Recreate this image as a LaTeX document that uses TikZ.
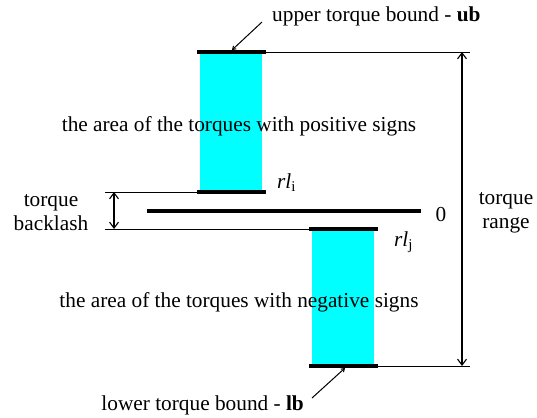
\documentclass[tikz,border=0pt]{standalone}
\usepackage{fontspec}
\setmainfont{Liberation Serif}
\usetikzlibrary{arrows.meta}
\definecolor{aqua}{RGB}{0,255,255}
\begin{document}
\begin{tikzpicture}[x=1pt,y=-1pt,
  thinline/.style={line width=0.9pt},
  barline/.style={line width=4.5pt},
  dimarrow/.style={line width=1.1pt,{Straight Barb[length=6pt,width=9pt]}-{Straight Barb[length=6pt,width=9pt]}},
  leader/.style={line width=1pt,-{Straight Barb[length=3pt,width=4pt]}},
  lbl/.style={inner sep=0pt,font=\rmfamily\fontsize{21.3}{24}\selectfont},
  cyanbox/.style={fill=aqua,draw=none}]
\useasboundingbox (0,0) rectangle (537,417);
% cyan areas
\fill[cyanbox] (200,52) rectangle (262,192);
\fill[cyanbox] (312,229) rectangle (374,366);
% coordinates
\coordinate (ubL) at (197,52);
\coordinate (ubR) at (266,52);
\coordinate (ubE) at (470,52);
\coordinate (lbL) at (309,366);
\coordinate (lbR) at (378,366);
\coordinate (lbE) at (470,366);
\coordinate (riL) at (197,192);
\coordinate (riR) at (266,192);
\coordinate (riS) at (105,192);
\coordinate (rjL) at (309,229);
\coordinate (rjR) at (378,229);
\coordinate (rjS) at (105,229);
\coordinate (zL) at (147,211);
\coordinate (zR) at (421,211);
% thin lines
\draw[thinline] (ubR) -- (ubE);
\draw[thinline] (lbR) -- (lbE);
\draw[thinline] (riS) -- (riL);
\draw[thinline] (rjS) -- (rjL);
% bars
\draw[barline] (ubL) -- (ubR);
\draw[barline] (lbL) -- (lbR);
\draw[barline] (riL) -- (riR);
\draw[barline] (rjL) -- (rjR);
\draw[barline] (zL) -- (zR);
% dimension arrows
\coordinate (rngT) at (462,52);
\coordinate (rngB) at (462,366);
\draw[dimarrow] (rngT) -- (rngB);
\coordinate (blT) at (114,192);
\coordinate (blB) at (114,229);
\draw[dimarrow] (blT) -- (blB);
% texts
\node[lbl,anchor=west] (ub) at (272,16) {upper torque bound - \textbf{ub}};
\node[lbl,anchor=east] (lb) at (304,405) {lower torque bound - \textbf{lb}};
\coordinate (ubS) at (262,22);
\coordinate (ubP) at (232,50);
\coordinate (lbS) at (312,398);
\coordinate (lbP) at (345,368);
\draw[leader] (ubS) -- (ubP);
\draw[leader] (lbS) -- (lbP);
\node[lbl] (pos) at (239,126) {the area of the torques with positive signs};
\node[lbl] (neg) at (239,302) {the area of the torques with negative signs};
\node[lbl,anchor=west] (rli) at (277,183) {\textit{rl}\textsubscript{i}};
\node[lbl,anchor=west] (rlj) at (394,242) {\textit{rl}\textsubscript{j}};
\node[lbl] (zero) at (441,215) {0};
\node[lbl,align=center] (tb) at (51,213) {torque\\backlash};
\node[lbl,align=center] (tr) at (506,213) {torque\\range};
\end{tikzpicture}
\end{document}
